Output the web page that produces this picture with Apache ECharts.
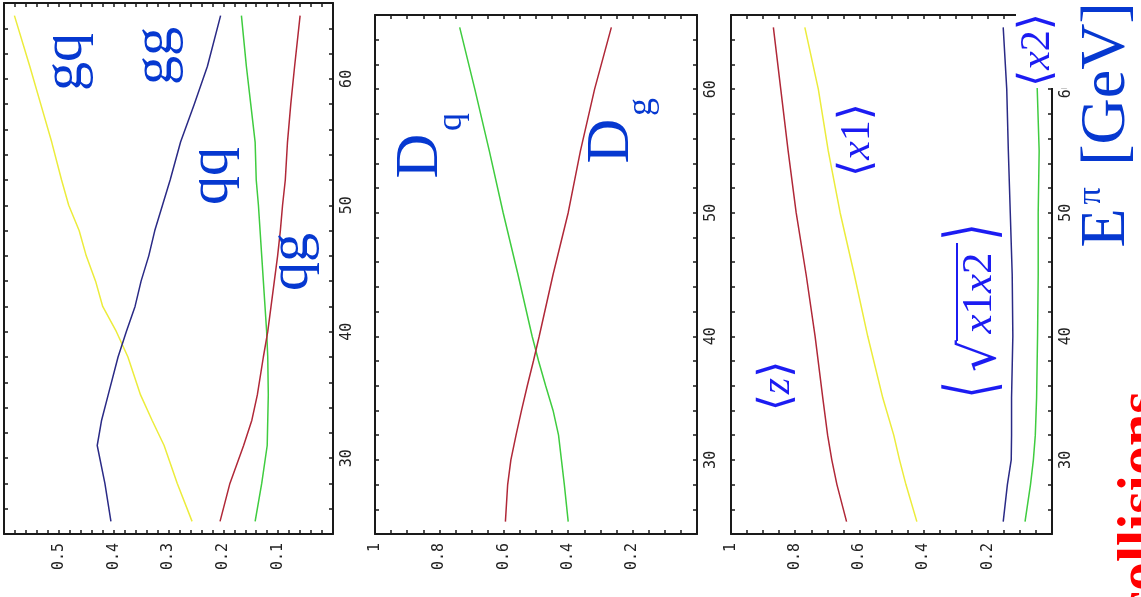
<!DOCTYPE html>
<html>
<head>
<meta charset="utf-8">
<script src="https://cdn.jsdelivr.net/npm/echarts@6/dist/echarts.min.js"></script>
<style>
html,body{margin:0;padding:0;background:#fff;}
#c{width:1141px;height:597px;}
</style>
</head>
<body>
<div id="c"></div>
<script>
// ---------- data (E^pi in GeV, fractions) ----------
const E1 = [25, 28, 31, 33, 35, 38, 40, 42, 44, 46, 48, 50, 52, 55, 58, 61, 65];
const gq = [0.257, 0.284, 0.308, 0.33, 0.351, 0.374, 0.395, 0.42, 0.433, 0.45, 0.463, 0.482, 0.495, 0.513, 0.533, 0.553, 0.581];
const gg = [0.405, 0.416, 0.43, 0.422, 0.41, 0.392, 0.377, 0.361, 0.35, 0.336, 0.325, 0.311, 0.297, 0.278, 0.253, 0.229, 0.205];
const qq = [0.142, 0.13, 0.12, 0.119, 0.118, 0.119, 0.121, 0.124, 0.127, 0.13, 0.133, 0.136, 0.14, 0.142, 0.15, 0.158, 0.167];
const qg = [0.206, 0.188, 0.163, 0.148, 0.138, 0.127, 0.119, 0.113, 0.107, 0.101, 0.096, 0.092, 0.087, 0.083, 0.077, 0.07, 0.06];

const E2 = [25, 28, 30, 32, 34, 36, 38, 40, 45, 50, 55, 60, 65];
const Dq = [0.40, 0.412, 0.421, 0.43, 0.447, 0.47, 0.492, 0.512, 0.556, 0.602, 0.645, 0.69, 0.737];
const Dg = [0.595, 0.588, 0.578, 0.562, 0.545, 0.527, 0.508, 0.49, 0.447, 0.40, 0.362, 0.318, 0.266];

const E3 = [25, 28, 30, 32, 35, 40, 45, 50, 55, 60, 65];
const zMean = [0.64, 0.67, 0.686, 0.699, 0.714, 0.738, 0.766, 0.797, 0.822, 0.845, 0.868];
const x1Mean = [0.421, 0.455, 0.475, 0.493, 0.527, 0.574, 0.616, 0.66, 0.697, 0.728, 0.77];
const sqrtX1X2 = [0.152, 0.139, 0.127, 0.126, 0.126, 0.122, 0.124, 0.13, 0.136, 0.141, 0.152];
const x2Mean = [0.084, 0.067, 0.058, 0.052, 0.048, 0.045, 0.043, 0.043, 0.04, 0.046, 0.05];

// tick labels
const eTickLabels = [30, 40, 50, 60];
const v1TickLabels = ['0.1', '0.2', '0.3', '0.4', '0.5'];
const v23TickLabels = ['0.2', '0.4', '0.6', '0.8', '1'];

// ---------- helpers ----------
const pairs = (vals, es) => vals.map((v, i) => [v, es[i]]);
const AX = '#1a1a1a';
const tickFont = {fontFamily: 'DejaVu Sans Mono', fontSize: 15, color: '#222'};
const grids = [
  {left: 4, top: 2, width: 329, height: 532},
  {left: 375, top: 15, width: 322, height: 519},
  {left: 731, top: 15, width: 321, height: 519}
];
function fmtV(v, labels) {
  for (const s of labels) { if (Math.abs(parseFloat(s) - v) < 1e-6) return s; }
  return '';
}
const xAxes = [], yAxes = [];
grids.forEach((g, i) => {
  const max = i === 0 ? 0.6 : 1;
  const iv = i === 0 ? 0.02 : 0.05;
  const labels = i === 0 ? v1TickLabels : v23TickLabels;
  ['bottom', 'top'].forEach(pos => {
    xAxes.push({
      type: 'value', gridIndex: i, position: pos, min: 0, max: max, interval: iv, inverse: true,
      axisLine: {show: true, onZero: false, lineStyle: {color: AX, width: 2}},
      axisTick: {show: true, inside: true, length: 4, lineStyle: {color: AX, width: 1.5}},
      splitLine: {show: false},
      axisLabel: pos === 'bottom'
        ? Object.assign({show: true, rotate: 90, margin: 9, interval: 0, formatter: v => fmtV(v, labels)}, tickFont)
        : {show: false}
    });
  });
  ['right', 'left'].forEach(pos => {
    yAxes.push({
      type: 'value', gridIndex: i, position: pos, min: 24, max: 66, interval: 2,
      axisLine: {show: true, onZero: false, lineStyle: {color: AX, width: 2}},
      axisTick: {show: true, inside: true, length: 4, lineStyle: {color: AX, width: 1.5}},
      splitLine: {show: false},
      axisLabel: pos === 'right'
        ? Object.assign({show: true, rotate: 90, margin: 7, interval: 0,
            formatter: v => eTickLabels.indexOf(v) >= 0 ? String(v) : ''}, tickFont)
        : {show: false}
    });
  });
});

const YEL = '#ecec3c', BLU = '#2a2a86', GRN = '#3fcc3f', RED = '#b02838';
function line(name, data, es, gi, color) {
  return {
    name, type: 'line', xAxisIndex: gi * 2, yAxisIndex: gi * 2,
    data: pairs(data, es), showSymbol: false, symbol: 'none', smooth: false,
    lineStyle: {color, width: 1.5}, silent: true, animation: false
  };
}
const series = [
  line('gq', gq, E1, 0, YEL),
  line('gg', gg, E1, 0, BLU),
  line('qq', qq, E1, 0, GRN),
  line('qg', qg, E1, 0, RED),
  line('Dq', Dq, E2, 1, GRN),
  line('Dg', Dg, E2, 1, RED),
  line('z', zMean, E3, 2, RED),
  line('x1', x1Mean, E3, 2, YEL),
  line('sqrtx1x2', sqrtX1X2, E3, 2, BLU),
  line('x2', x2Mean, E3, 2, GRN)
];

// ---------- rotated text labels ----------
const R = Math.PI / 2;
const LB = '#0638d0';
const MB = '#1c1cf2';
function txt(text, x, y, size, color, extra, el) {
  return Object.assign({
    type: 'text', x, y, rotation: R, z: 100,
    style: Object.assign({text, fontSize: size, fontFamily: 'Liberation Serif', fill: color,
      align: 'center', verticalAlign: 'middle'}, extra || {})
  }, el || {});
}
const mathRich = (s) => ({
  b: {fontFamily: 'DejaVu Serif', fontSize: s + 2, fill: MB},
  i: {fontFamily: 'Liberation Serif', fontStyle: 'italic', fontSize: s, fill: MB},
  n: {fontFamily: 'Liberation Serif', fontSize: s, fill: MB}
});
const graphic = [
  txt('gq', 66, 62, 58, LB),
  txt('gg', 156, 56, 58, LB),
  txt('qq', 212, 176, 58, LB),
  txt('qg', 292, 262, 58, LB),
  txt('D', 421, 156, 62, LB),
  txt('q', 452, 122, 36, LB),
  txt('D', 612, 141, 62, LB),
  txt('g', 642, 107, 36, LB),
  // math labels, panel 3
  txt('{b|⟨}{i|z}{b|⟩}', 778, 386, 44, MB, {rich: mathRich(42)}),
  txt('{b|⟨}{i|x}{n|1}{b|⟩}', 858, 140, 44, MB, {rich: mathRich(42)}),
  {type: 'rect', z: 90, shape: {x: 1016, y: 8, width: 62, height: 80}, style: {fill: '#fff'}},
  txt('{b|⟨}{i|x}{n|2}{b|⟩}', 1038, 50, 44, MB, {rich: mathRich(42)}),
  txt('⟨', 975, 390, 44, MB, {fontFamily: 'DejaVu Serif'}, {scaleY: 1.55}),
  txt('√', 982, 356, 50, MB, {fontFamily: 'DejaVu Serif'}),
  {type: 'line', z: 100, shape: {x1: 957, y1: 243, x2: 957, y2: 341}, style: {stroke: MB, lineWidth: 2}},
  txt('{i|x}{n|1}{i|x}{n|2}', 980, 293, 43, MB, {rich: {
    i: {fontFamily: 'Liberation Serif', fontStyle: 'italic', fontSize: 43, fill: MB},
    n: {fontFamily: 'Liberation Serif', fontSize: 43, fill: MB}}}),
  txt('⟩', 975, 232, 44, MB, {fontFamily: 'DejaVu Serif'}, {scaleY: 1.55}),
  // axis title
  txt('E', 1107, 228, 64, LB),
  txt('π', 1091, 196, 34, LB),
  txt('[GeV]', 1107, 84, 64, LB),
  // cut-off slide title
  txt('collisions', 1142, 504, 58, '#ff0000', {fontWeight: 'bold'})
];

const chart = echarts.init(document.getElementById('c'), null, {renderer: 'canvas'});
chart.setOption({
  animation: false,
  backgroundColor: '#ffffff',
  grid: grids,
  xAxis: xAxes,
  yAxis: yAxes,
  series,
  graphic
});
</script>
</body>
</html>
